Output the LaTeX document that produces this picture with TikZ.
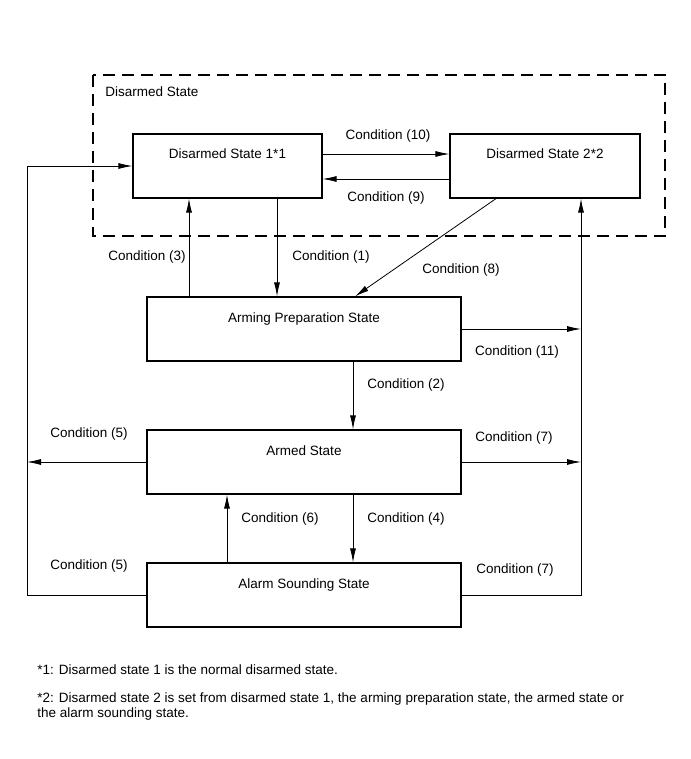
\documentclass[tikz,border=0pt]{standalone}
\usepackage{fontspec}
\setmainfont{Liberation Sans}
\usetikzlibrary{arrows.meta}

\begin{document}
\begin{tikzpicture}[x=1pt,y=-1pt,
		font=\fontsize{13.5}{15}\selectfont,
		line width=0.8pt,
		statebox/.style={draw, rectangle, line width=1.2pt, minimum height=64pt, inner sep=0pt,
			text height=10pt, text depth=24pt},
		arr/.style={-{Latex[length=14pt,width=6pt]}},
		cond/.style={inner sep=1pt}]
	\useasboundingbox (0,0) rectangle (690,759);
	% dashed group
	\draw[line width=1.1pt, dash pattern=on 12pt off 7pt] (93,75) rectangle (665,236);
	\node[cond, anchor=west] (grp) at (104,92) {Disarmed State};
	% states
	\node[statebox, minimum width=189pt] (ds1) at (227.5,166) {Disarmed State 1*1};
	\node[statebox, minimum width=190pt] (ds2) at (545,166) {Disarmed State 2*2};
	\node[statebox, minimum width=314pt] (prep) at (304,329) {Arming Preparation State};
	\node[statebox, minimum width=314pt] (armed) at (304,462) {Armed State};
	\node[statebox, minimum width=314pt] (alarm) at (304,595) {Alarm Sounding State};
	\coordinate (lbus) at (27,595);
	\coordinate (rbus) at (581,595);
	% connectors
	\draw[arr] ([yshift=12pt]ds1.east) -- ([yshift=12pt]ds2.west);
	\draw[arr] ([yshift=-13pt]ds2.west) -- ([yshift=-13pt]ds1.east);
	\draw[arr] ([xshift=-115pt]prep.north) -- ([xshift=-115pt]prep.north |- ds1.south);
	\draw[arr] ([xshift=-27pt]prep.north |- ds1.south) -- ([xshift=-27pt]prep.north);
	\draw[arr] ([xshift=-49pt]ds2.south) -- ([xshift=51pt]prep.north);
	\draw[arr] (prep.east) -- (prep.east -| rbus);
	\draw[arr] ([xshift=49pt]prep.south) -- ([xshift=49pt]armed.north);
	\draw[arr] (armed.west) -- (armed.west -| lbus);
	\draw[arr] (armed.east) -- (armed.east -| rbus);
	\draw[arr] ([xshift=49pt]armed.south) -- ([xshift=49pt]alarm.north);
	\draw[arr] ([xshift=-77pt]alarm.north) -- ([xshift=-77pt]armed.south);
	\draw[arr]
		(alarm.west)
		-- (lbus)
		-- (lbus |- ds1.west)
		-- (ds1.west);
	\draw[arr]
		(alarm.east)
		-- (rbus)
		-- (rbus |- ds2.south);
	% labels
	\node[cond] (c10) at (388,136) {Condition (10)};
	\node[cond] (c9) at (386,198) {Condition (9)};
	\node[cond] (c3) at (147,257) {Condition (3)};
	\node[cond] (c1) at (331,257) {Condition (1)};
	\node[cond] (c8) at (461,270) {Condition (8)};
	\node[cond] (c11) at (517,352) {Condition (11)};
	\node[cond] (c2) at (406,385) {Condition (2)};
	\node[cond] (c5a) at (89,434) {Condition (5)};
	\node[cond] (c7a) at (514,438) {Condition (7)};
	\node[cond] (c6) at (280,519) {Condition (6)};
	\node[cond] (c4) at (406,519) {Condition (4)};
	\node[cond] (c5b) at (89,566) {Condition (5)};
	\node[cond] (c7b) at (515,570) {Condition (7)};
	% footnotes
	\node[cond, anchor=west] (fn1) at (36,670) {*1: Disarmed state 1 is the normal disarmed state.};
	\node[cond, anchor=west, align=left] (fn2) at (36,707)
		{*2: Disarmed state 2 is set from disarmed state 1, the arming preparation state, the armed state or\\the alarm sounding state.};
\end{tikzpicture}
\end{document}
